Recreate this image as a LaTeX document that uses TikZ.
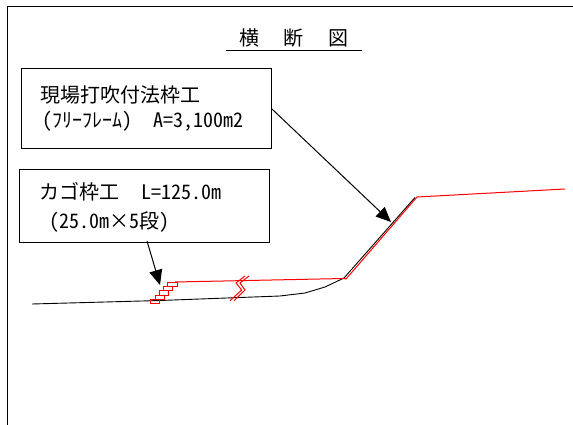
\documentclass[tikz,border=0pt]{standalone}
\usepackage{fontspec}
\setmainfont{Noto Sans CJK JP}[RawFeature=+hwid]
\usetikzlibrary{arrows.meta}
\tikzset{
  notebox/.style={draw,line width=0.9pt,inner sep=0pt,anchor=north west},
  label/.style={inner sep=0pt,anchor=west,font=\fontsize{20}{20}\selectfont},
  leader/.style={line width=1pt,-{Triangle[length=15pt,width=13pt]}},
  newline/.style={red,line width=1pt},
  oldline/.style={black,line width=0.9pt}
}
\begin{document}
\begin{tikzpicture}[x=1pt,y=-1pt]
  \useasboundingbox (0,0) rectangle (573,425);
  \draw[line width=0.8pt] (7.5,425) -- (7.5,6.5) -- (573,6.5);
  % title
  \node[label] (title1) at (239,38) {横};
  \node[label] (title2) at (283,38) {断};
  \node[label] (title3) at (328,38) {図};
  \draw[line width=0.8pt] (226,50.5) -- (362,50.5);
  % boxes
  \node[notebox,minimum width=250pt,minimum height=80pt] (framebox) at (21,68.5) {};
  \node[notebox,minimum width=250pt,minimum height=72pt] (basketbox) at (19,169.5) {};
  \node[label] (frametext) at (40,95) {現場打吹付法枠工};
  \node[label] (framesub) at (42,121) {(ﾌﾘｰﾌﾚｰﾑ)\hspace{21pt}A=3,100m2};
  \node[label] (baskettext) at (39,192) {カゴ枠工\hspace{22pt}L=125.0m};
  \node[label] (basketsub) at (49,222) {(25.0m×5段)};
  % leaders
  \coordinate (slopetip) at (391,222);
  \coordinate (stairtip) at (160,285);
  \draw[leader] (framebox.east) -- (slopetip);
  \draw[leader] (147,241) -- (stairtip);
  % ground
  \draw[oldline] (32,304) -- (160,300.5) -- (280,296) -- (305,293) -- (325,287) -- (344,278) -- (415,197.5);
  % new surface
  \draw[newline] (175,282) -- (344,278.5) -- (346,279) -- (417,197) -- (565,189);
  % break mark
  \draw[newline] (230,300.7) -- (241.7,290) -- (236,283) -- (245,276);
  \draw[newline] (234,300.7) -- (245,290) -- (240,283) -- (249,276);
  % stair blocks
  \draw[newline] (150.7,299.3) rectangle (159.3,303.3);
  \draw[newline] (155,295) rectangle (164,299.3);
  \draw[newline] (159.3,290.7) rectangle (168.3,295);
  \draw[newline] (163.3,286.7) rectangle (172.7,290.7);
  \draw[newline] (167.7,282.3) rectangle (177,286.7);
\end{tikzpicture}
\end{document}
